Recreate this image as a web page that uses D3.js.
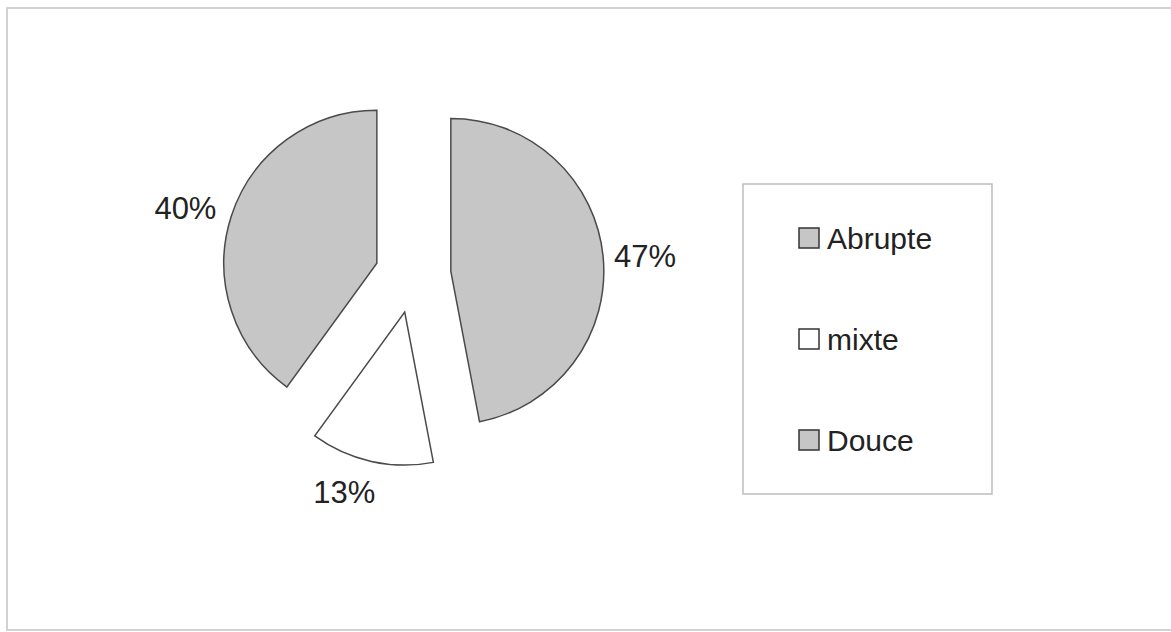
<!DOCTYPE html>
<html>
<head>
<meta charset="utf-8">
<script src="https://cdn.jsdelivr.net/npm/d3@7"></script>
<style>
  html, body { margin: 0; padding: 0; background: #fff; }
  svg { display: block; }
  text { font-family: "Liberation Sans", Arial, sans-serif; fill: #222; }
</style>
</head>
<body>
<svg id="chart" width="1171" height="632"></svg>
<script>
const categories = ["Abrupte", "mixte", "Douce"];
const values = [47, 13, 40];
const labels = ["47%", "13%", "40%"];
const colors = ["#c6c6c6", "#ffffff", "#c6c6c6"];

const svg = d3.select("#chart");

// outer frame
svg.append("rect")
  .attr("x", 7).attr("y", 8).attr("width", 1175).attr("height", 622)
  .attr("fill", "#fff").attr("stroke", "#d2d2d2").attr("stroke-width", 2);

const cx = 413, cy = 275, r = 153, explode = 38, labelR = 233;
// small layout nudges for label placement (layout, not data)
const labelNudge = [[0, 3], [-18, -10], [-6, 5]];

const pie = d3.pie().sort(null).value(d => d);
const arcs = pie(values);
const arc = d3.arc().innerRadius(0).outerRadius(r);

const g = svg.append("g").attr("transform", `translate(${cx},${cy})`);

g.selectAll("path.slice")
  .data(arcs)
  .join("path")
  .attr("class", "slice")
  .attr("transform", d => {
    const a = (d.startAngle + d.endAngle) / 2;
    return `translate(${explode * Math.sin(a)},${-explode * Math.cos(a)})`;
  })
  .attr("d", arc)
  .attr("fill", (d, i) => colors[i])
  .attr("stroke", "#4a4a4a")
  .attr("stroke-width", 1.5);

g.selectAll("text.lbl")
  .data(arcs)
  .join("text")
  .attr("class", "lbl")
  .attr("x", (d, i) => labelR * Math.sin((d.startAngle + d.endAngle) / 2) + labelNudge[i][0])
  .attr("y", (d, i) => -labelR * Math.cos((d.startAngle + d.endAngle) / 2) + labelNudge[i][1])
  .attr("text-anchor", "middle")
  .attr("dominant-baseline", "central")
  .attr("font-size", 31)
  .text((d, i) => labels[i]);

// legend
const leg = svg.append("g");
leg.append("rect")
  .attr("x", 743).attr("y", 184).attr("width", 249).attr("height", 310)
  .attr("fill", "#fff").attr("stroke", "#bdbdbd").attr("stroke-width", 1.5);

const legY = d3.scalePoint().domain(categories).range([238, 440]);

const items = leg.selectAll("g.item")
  .data(categories)
  .join("g")
  .attr("class", "item")
  .attr("transform", d => `translate(0,${legY(d)})`);

items.append("rect")
  .attr("x", 799).attr("y", -10).attr("width", 20).attr("height", 20)
  .attr("fill", (d, i) => colors[i])
  .attr("stroke", "#333").attr("stroke-width", 1.5);

items.append("text")
  .attr("x", 827).attr("y", 0)
  .attr("dominant-baseline", "central")
  .attr("font-size", 30)
  .text(d => d);
</script>
</body>
</html>
